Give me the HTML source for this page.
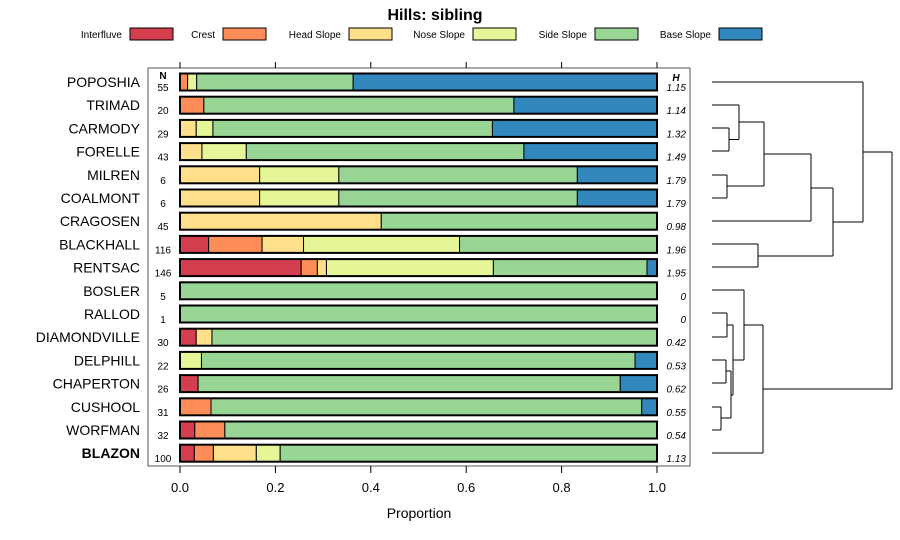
<!DOCTYPE html>
<html><head><meta charset="utf-8">
<style>
body{margin:0;background:#fff;}
svg{display:block;font-family:"Liberation Sans",sans-serif;}
</style></head>
<body>
<svg id="chart" width="900" height="540" viewBox="0 0 900 540">
<text x="435" y="20" text-anchor="middle" font-size="16" font-weight="bold">Hills: sibling</text>
<g id="legend"></g>
<rect x="148" y="68" width="542" height="398" fill="none" stroke="#555" stroke-width="1"/>
<g id="bars"></g>
<g id="axis"></g>
<text x="419" y="518" text-anchor="middle" font-size="14">Proportion</text>
<text x="163" y="79" text-anchor="middle" font-size="10" font-weight="bold">N</text>
<text x="676" y="81" text-anchor="middle" font-size="10" font-weight="bold" font-style="italic">H</text>
<g id="dendro" fill="none" stroke="#000" stroke-width="1">
<path d="M712 82H863M712 105H739M712 128H729M712 151H729M729 128V151M729 139.5H739M739 105V139.5M739 122H764M712 175H727M712 198H727M727 175V198M727 186H764M764 122V186M764 154H811M712 221H811M811 154V221M811 188H833M712 244H758M712 267H758M758 244V267M758 256H833M833 188V256M833 222H863M863 82V222M863 152H892"/>
<path d="M712 290H744M712 313H727M712 337H727M727 313V337M727 325H733M712 360H726M712 383H726M726 360V383M726 371H731M712 407H721M712 430H721M721 407V430M721 418H731M731 371V418M731 395H733M733 325V395M733 360H744M744 290V360M744 325H763M712 453H763M763 325V453M763 389H892M892 152V389"/>
</g>
</svg>
<script>
const categories=["POPOSHIA","TRIMAD","CARMODY","FORELLE","MILREN","COALMONT","CRAGOSEN","BLACKHALL","RENTSAC","BOSLER","RALLOD","DIAMONDVILLE","DELPHILL","CHAPERTON","CUSHOOL","WORFMAN","BLAZON"];
const seriesNames=["Interfluve","Crest","Head Slope","Nose Slope","Side Slope","Base Slope"];
const interfluve=[0,0,0,0,0,0,0,0.06,0.254,0,0,0.034,0,0.038,0,0.031,0.03];
const crest=[0.016,0.05,0,0,0,0,0,0.112,0.034,0,0,0,0,0,0.065,0.063,0.04];
const headSlope=[0,0,0.034,0.046,0.167,0.167,0.422,0.087,0.019,0,0,0.033,0,0,0,0,0.09];
const noseSlope=[0.019,0,0.035,0.093,0.166,0.166,0,0.327,0.35,0,0,0,0.045,0,0,0,0.05];
const sideSlope=[0.328,0.65,0.586,0.582,0.5,0.5,0.578,0.414,0.322,1,1,0.933,0.909,0.885,0.903,0.906,0.79];
const baseSlope=[0.637,0.3,0.345,0.279,0.167,0.167,0,0,0.021,0,0,0,0.046,0.077,0.032,0,0];
const nValues=["55","20","29","43","6","6","45","116","146","5","1","30","22","26","31","32","100"];
const hValues=["1.15","1.14","1.32","1.49","1.79","1.79","0.98","1.96","1.95","0","0","0.42","0.53","0.62","0.55","0.54","1.13"];
const xTicks=[0,0.2,0.4,0.6,0.8,1.0];
const xTickLabels=["0.0","0.2","0.4","0.6","0.8","1.0"];
const colors=["#d53e4f","#fc8d59","#fee08b","#e6f598","#99d594","#3288bd"];
const NS="http://www.w3.org/2000/svg";
const X=v=>180+v*477;
const Y=i=>82+i*23.2;
function mk(tag,attrs,parent){const e=document.createElementNS(NS,tag);for(const k in attrs)e.setAttribute(k,attrs[k]);parent.appendChild(e);return e;}
const series=[interfluve,crest,headSlope,noseSlope,sideSlope,baseSlope];
const bars=document.getElementById('bars');
categories.forEach((c,i)=>{
  const y=Y(i);
  const lab=mk('text',{x:140,y:y+5,'text-anchor':'end','font-size':14},bars);
  lab.textContent=c;
  if(c==="BLAZON")lab.setAttribute('font-weight','bold');
  
  
  const n=mk('text',{x:163,y:y+9,'text-anchor':'middle','font-size':10},bars);
  n.textContent=nValues[i];
  
  
  const h=mk('text',{x:686,y:y+9,'text-anchor':'end','font-size':10,'font-style':'italic'},bars);
  h.textContent=hValues[i];
  
  
  let cum=0;
  series.forEach((s,j)=>{
    const v=s[i];
    if(v>0){
      const r=mk('rect',{x:X(cum),y:y-8.5,width:X(cum+v)-X(cum),height:17,fill:colors[j],stroke:'#000','stroke-width':1},bars);
      
      
    }
    cum+=v;
  });
  const o=mk('rect',{x:X(0),y:y-8.5,width:X(1)-X(0),height:17,fill:'none',stroke:'#000','stroke-width':2},bars);
  
  
});
const axis=document.getElementById('axis');
xTicks.forEach((t,i)=>{
  mk('line',{x1:X(t),x2:X(t),y1:466,y2:473,stroke:'#000'},axis);
  mk('line',{x1:X(t),x2:X(t),y1:62,y2:68,stroke:'#000'},axis);
  const tl=mk('text',{x:X(t),y:492,'text-anchor':'middle','font-size':13},axis);
  tl.textContent=xTickLabels[i];
  
  
});
const legend=document.getElementById('legend');
const legRectX=[130,223,349,473,595,719];
seriesNames.forEach((s,j)=>{
  const t=mk('text',{x:legRectX[j]-8,y:38,'text-anchor':'end','font-size':10},legend);
  t.textContent=s;
  
  
  const r=mk('rect',{x:legRectX[j],y:28,width:43,height:12,fill:colors[j],stroke:'#000'},legend);
  
  
});
</script>
</body></html>
